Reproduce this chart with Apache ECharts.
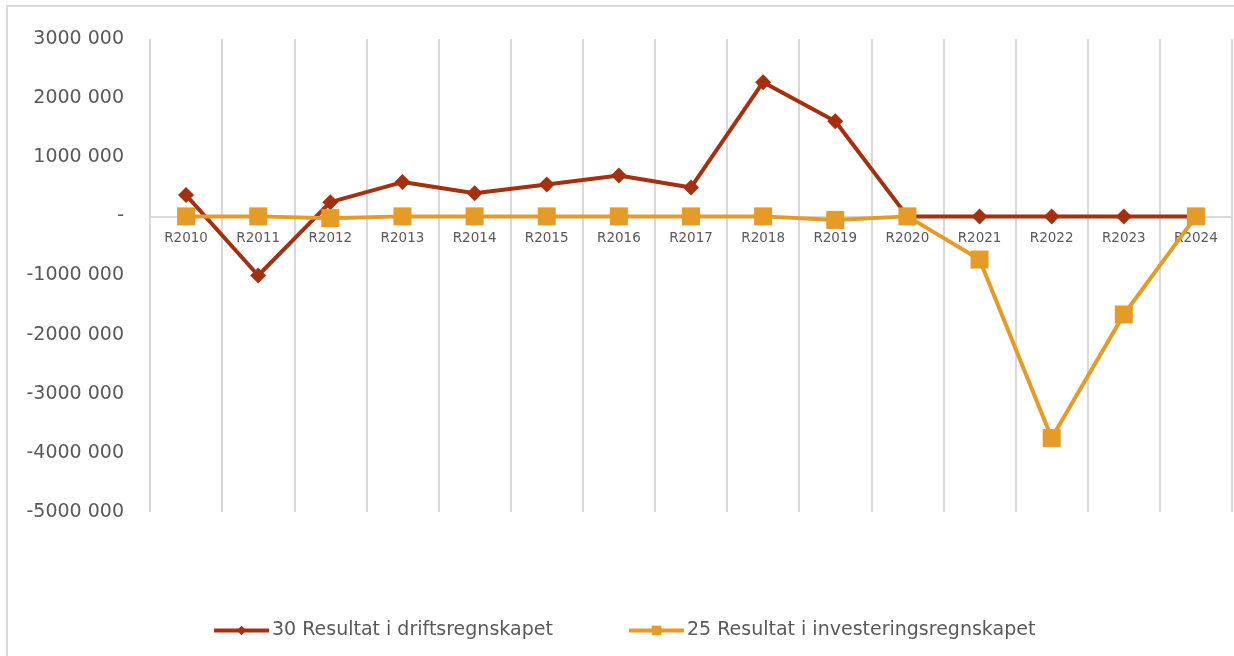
<!DOCTYPE html>
<html>
<head>
<meta charset="utf-8">
<script src="https://cdn.jsdelivr.net/npm/echarts@6/dist/echarts.min.js"></script>
<style>
html,body{margin:0;padding:0;background:#fff;}
#wrap{position:relative;width:1234px;height:656px;overflow:hidden;}
#chart{position:absolute;left:0;top:0;width:1234px;height:656px;}
#frame{position:absolute;left:6px;top:5px;width:1300px;height:700px;border-left:2px solid #d9d9d9;border-top:2px solid #d9d9d9;pointer-events:none;}
</style>
</head>
<body>
<div id="wrap"><div id="chart"></div><div id="frame"></div></div>
<script>
const categories = ['R2010','R2011','R2012','R2013','R2014','R2015','R2016','R2017','R2018','R2019','R2020','R2021','R2022','R2023','R2024'];
const driftsName = '30 Resultat i driftsregnskapet';
const investName = '25 Resultat i investeringsregnskapet';
const drifts = [360000, -1000000, 240000, 580000, 390000, 540000, 690000, 490000, 2270000, 1610000, 0, 0, 0, 0, 0];
const invest = [0, 0, -30000, 0, 0, 0, 0, 0, 0, -60000, 0, -730000, -3750000, -1660000, 0];
const yTickValues = [3000000, 2000000, 1000000, 0, -1000000, -2000000, -3000000, -4000000, -5000000];
const yTickLabels = ['3000 000','2000 000','1000 000','-','-1000 000','-2000 000','-3000 000','-4000 000','-5000 000'];

const chart = echarts.init(document.getElementById('chart'));
const font = 'DejaVu Sans, Verdana, sans-serif';
const gridTop = 39, gridBottom = 144, H = 656;
const plotH = H - gridTop - gridBottom;
const zeroOffset = -plotH * (0 - (-5000000)) / 8000000;
chart.setOption({
  animation: false,
  grid: {left: 150, right: 2, top: gridTop, bottom: gridBottom, containLabel: false},
  legend: [
    {left: 207, top: 616, itemWidth: 55, itemHeight: 12, data: [driftsName],
     lineStyle: {width: 4}, itemGap: 0,
     textStyle: {color: '#595959', fontSize: 19, fontFamily: font, padding: [0, 0, 0, -2]}},
    {left: 622, top: 616, itemWidth: 55, itemHeight: 12, data: [investName],
     lineStyle: {width: 4}, itemGap: 0,
     textStyle: {color: '#595959', fontSize: 19, fontFamily: font, padding: [0, 0, 0, -2]}}
  ],
  xAxis: {
    type: 'category',
    data: categories,
    boundaryGap: true,
    offset: zeroOffset,
    axisLine: {onZero: false, lineStyle: {color: '#d9d9d9', width: 2}},
    axisTick: {show: false},
    axisLabel: {color: '#595959', fontSize: 13.5, fontFamily: font, margin: 15, interval: 0},
    splitLine: {show: true, lineStyle: {color: '#d9d9d9', width: 2}}
  },
  yAxis: {
    type: 'value',
    min: -5000000, max: 3000000, interval: 1000000,
    axisLine: {show: false}, axisTick: {show: false},
    splitLine: {show: false},
    axisLabel: {color: '#595959', fontSize: 19, fontFamily: font, margin: 26,
      formatter: function (v) { const i = yTickValues.indexOf(v); return i >= 0 ? yTickLabels[i] : ''; }}
  },
  series: [
    {name: driftsName, type: 'line', data: drifts, symbol: 'diamond', symbolSize: 16,
     lineStyle: {color: '#A5300F', width: 4}, itemStyle: {color: '#A5300F'}, z: 2},
    {name: investName, type: 'line', data: invest, symbol: 'rect', symbolSize: 18,
     lineStyle: {color: '#E59B25', width: 4}, itemStyle: {color: '#E59B25'}, z: 3}
  ]
});
</script>
</body>
</html>
